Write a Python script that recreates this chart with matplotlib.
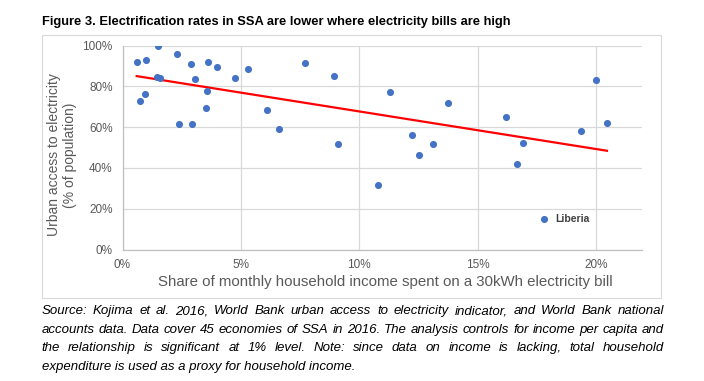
import matplotlib
matplotlib.use("Agg")
import matplotlib.pyplot as plt
from matplotlib.patches import Rectangle
from matplotlib.ticker import FuncFormatter

# share of monthly household income spent on a 30kWh bill (%)
bill_share = [0.60, 0.98, 1.49, 2.31, 2.91, 3.62, 4.00, 1.44, 1.60, 3.07,
              3.56, 0.96, 0.75, 3.54, 2.40, 2.95, 4.76, 5.31, 7.72, 8.94,
              6.11, 6.62, 9.11, 11.30, 13.76, 12.24, 13.14, 12.53, 10.80, 20.01,
              16.21, 20.47, 19.37, 16.93, 16.65]
# urban access to electricity (% of population)
urban_access = [91.9, 92.7, 99.7, 95.7, 90.8, 91.8, 89.3, 84.6, 83.9, 83.4,
                77.5, 76.1, 72.6, 69.4, 61.4, 61.4, 83.9, 88.3, 91.3, 84.9,
                68.2, 58.9, 51.6, 77.1, 71.7, 56.0, 51.6, 46.2, 31.5, 82.9,
                64.8, 61.9, 57.9, 52.1, 42.1]

liberia_name = "Liberia"
liberia_share = 17.81
liberia_access = 14.8

# linear trend line as drawn in the source chart
trend_x = [0.60, 20.47]
trend_y = [85.0, 48.4]

x_ticks = [0, 5, 10, 15, 20]
y_ticks = [0, 20, 40, 60, 80, 100]

title = "Figure 3. Electrification rates in SSA are lower where electricity bills are high"
x_label = "Share of monthly household income spent on a 30kWh electricity bill"
y_label = "Urban access to electricity\n(% of population)"
caption = [
    "Source: Kojima et al. 2016, World Bank urban access to electricity indicator, and World Bank national",
    "accounts data. Data cover 45 economies of SSA in 2016. The analysis controls for income per capita and",
    "the relationship is significant at 1% level. Note: since data on income is lacking, total household",
    "expenditure is used as a proxy for household income.",
]

W, H = 704, 381
GRAY = "#595959"
BLUE = "#4472C4"

plt.rcParams["font.family"] = ["Liberation Sans", "DejaVu Sans"]

fig = plt.figure(figsize=(W / 100, H / 100), dpi=100)
fig.patch.set_facecolor("white")

# chart frame
fig.patches.append(Rectangle((42 / W, 1 - 298 / H), (661 - 42) / W, (298 - 35) / H,
                             transform=fig.transFigure, fill=False,
                             edgecolor="#d9d9d9", linewidth=0.8))

ax = fig.add_axes([122.5 / W, 1 - 249.5 / H, (642 - 122.5) / W, (249.5 - 45.5) / H])
ax.scatter(bill_share, urban_access, s=26, color=BLUE, zorder=3, linewidths=0)
ax.scatter([liberia_share], [liberia_access], s=26, color=BLUE, zorder=3, linewidths=0)
ax.annotate(liberia_name, (liberia_share, liberia_access), xytext=(8, 0),
            textcoords="offset points", va="center", ha="left",
            fontsize=7.5, color="#404040", fontweight="bold")
ax.plot(trend_x, trend_y, color="#FF0000", linewidth=1.6, zorder=2)

ax.set_xlim(0, 21.95)
ax.set_ylim(0, 100)
ax.set_xticks(x_ticks)
ax.set_yticks(y_ticks)
ax.xaxis.set_major_formatter(FuncFormatter(lambda v, _: f"{v:.0f}%"))
ax.yaxis.set_major_formatter(FuncFormatter(lambda v, _: f"{v:.0f}%"))
ax.grid(True, color="#d9d9d9", linewidth=0.9)
ax.set_axisbelow(True)
for side in ("top", "right"):
    ax.spines[side].set_visible(False)
for side in ("left", "bottom"):
    ax.spines[side].set_color("#bfbfbf")
    ax.spines[side].set_linewidth(0.9)
ax.tick_params(length=0, labelsize=8.5, labelcolor=GRAY, pad=7)

fig.text(62 / W, 1 - 155 / H, y_label, rotation=90, ha="center", va="center",
         multialignment="center", fontsize=10, color=GRAY)
fig.text(385 / W, 1 - 282 / H, x_label, ha="center", va="center",
         fontsize=10.8, color=GRAY)
fig.text(42 / W, 1 - 22 / H, title, ha="left", va="center",
         fontsize=9.3, fontweight="bold", color="black")

# justified italic caption
renderer = fig.canvas.get_renderer()
x0, x1 = 41.5, 664
for i, line in enumerate(caption):
    y = 1 - (311 + i * 18.7) / H
    words = line.split()
    if i == len(caption) - 1:
        fig.text(x0 / W, y, line, ha="left", va="center", fontsize=9.5,
                 style="italic", color="black")
        continue
    texts = [fig.text(0, y, w, ha="left", va="center", fontsize=9.5,
                      style="italic", color="black") for w in words]
    widths = [t.get_window_extent(renderer).width for t in texts]
    gap = (x1 - x0 - sum(widths)) / (len(words) - 1)
    xpos = x0
    for t, w in zip(texts, widths):
        t.set_x(xpos / W)
        xpos += w + gap

fig.savefig("out.png", dpi=100, facecolor="white")
